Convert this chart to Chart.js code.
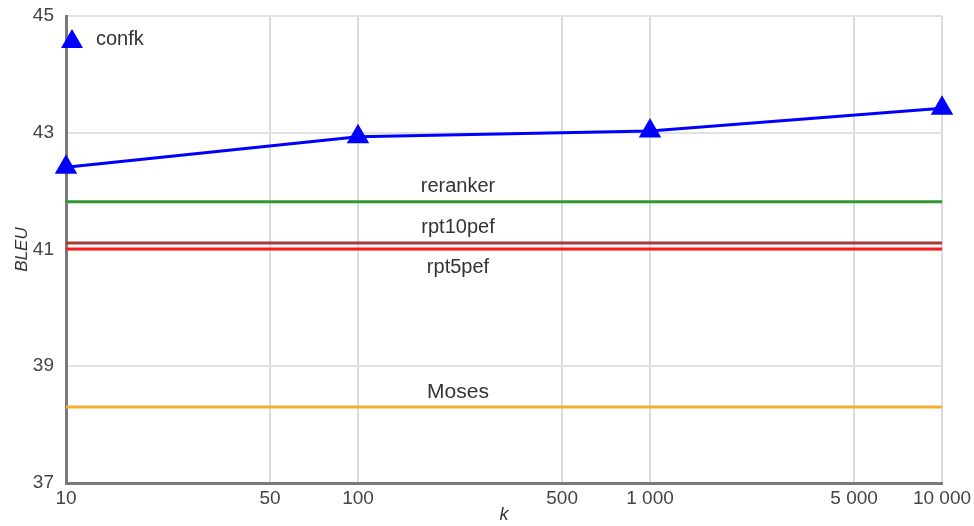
<!DOCTYPE html>
<html>
<head>
<meta charset="utf-8">
<script src="https://cdn.jsdelivr.net/npm/chart.js@4.4.1/dist/chart.umd.min.js"></script>
<style>
  html, body { margin: 0; padding: 0; background: #fff; }
  #wrap { width: 974px; height: 526px; position: relative; }
</style>
</head>
<body>
<div id="wrap"><canvas id="bleuChart"></canvas></div>
<script>
// Data
const kValues = [10, 100, 1000, 10000];
const confkBleu = [42.41, 42.93, 43.03, 43.42];
const baselineNames = ['reranker', 'rpt10pef', 'rpt5pef', 'Moses'];
const baselineBleu = [41.82, 41.11, 41.01, 38.30];
const baselineColors = ['#2e9a2e', '#a83a3a', '#ff1a1a', '#f8ac30'];
const xTicks = [10, 50, 100, 500, 1000, 5000, 10000];
const yMin = 37, yMax = 45, yStep = 2;

// label offset: negative = above the line, positive = below
const labelOffsets = [-15, -16, 19, -15];
const labelSizes = [20, 20, 20, 21];
const labelX = 220;
const fontFamily = '"Liberation Sans", Arial, sans-serif';

function fmtK(v) {
    return String(v).replace(/\B(?=(\d{3})+(?!\d))/g, ' ');
}

const datasets = [{
    label: 'confk',
    data: kValues.map((k, i) => ({ x: k, y: confkBleu[i] })),
    borderColor: '#0000ff',
    backgroundColor: '#0000ff',
    borderWidth: 3,
    pointStyle: 'triangle',
    pointRadius: 13,
    pointHoverRadius: 13,
    pointBorderWidth: 0,
    clip: false
}];
baselineNames.forEach((name, i) => {
    datasets.push({
        label: name,
        data: [{ x: xTicks[0], y: baselineBleu[i] }, { x: xTicks[xTicks.length - 1], y: baselineBleu[i] }],
        borderColor: baselineColors[i],
        borderWidth: 3,
        pointRadius: 0
    });
});

// draws the text labels over the baseline lines and the legend entry
const labelPlugin = {
    id: 'labelPlugin',
    afterDatasetsDraw(chart) {
        const { ctx, scales: { x, y }, chartArea } = chart;
        ctx.save();
        ctx.fillStyle = '#333';
        ctx.textAlign = 'center';
        ctx.textBaseline = 'middle';
        baselineNames.forEach((name, i) => {
            ctx.font = labelSizes[i] + 'px ' + fontFamily;
            ctx.fillText(name, x.getPixelForValue(labelX), y.getPixelForValue(baselineBleu[i]) + labelOffsets[i]);
        });
        // legend
        const lx = chartArea.left + 6, ly = chartArea.top + 23;
        ctx.fillStyle = '#0000ff';
        ctx.beginPath();
        ctx.moveTo(lx - 11, ly + 9);
        ctx.lineTo(lx, ly - 10);
        ctx.lineTo(lx + 11, ly + 9);
        ctx.closePath();
        ctx.fill();
        ctx.fillStyle = '#333';
        ctx.textAlign = 'left';
        ctx.font = '20px ' + fontFamily;
        ctx.fillText('confk', chartArea.left + 30, ly);
        ctx.restore();
    }
};

const bleuCtx = document.getElementById('bleuChart').getContext('2d');
new Chart(bleuCtx, {
    type: 'line',
    data: { datasets: datasets },
    options: {
        responsive: true,
        maintainAspectRatio: false,
        animation: false,
        layout: { padding: { top: 16, right: 32, left: 0, bottom: 0 } },
        plugins: {
            legend: { display: false },
            tooltip: { enabled: false }
        },
        scales: {
            x: {
                type: 'logarithmic',
                min: xTicks[0],
                max: xTicks[xTicks.length - 1],
                afterBuildTicks: scale => {
                    scale.ticks = xTicks.map(v => ({ value: v }));
                },
                afterFit: scale => {
                    scale.height = 43;
                    scale.paddingLeft = 0;
                    scale.paddingRight = 0;
                },
                ticks: {
                    color: '#444',
                    font: { size: 19, family: fontFamily },
                    padding: 4,
                    maxRotation: 0,
                    autoSkip: false,
                    callback: value => fmtK(value)
                },
                grid: { color: '#dcdcdc', lineWidth: 2, drawTicks: false },
                border: { color: '#7a7a7a', width: 3 },
                title: {
                    display: true,
                    text: 'k',
                    color: '#333',
                    font: { size: 18, style: 'italic', family: fontFamily },
                    padding: { top: 0, bottom: 0 }
                }
            },
            y: {
                min: yMin,
                max: yMax,
                afterFit: scale => {
                    scale.width = 66;
                    scale.paddingTop = 0;
                    scale.paddingBottom = 0;
                },
                ticks: {
                    stepSize: yStep,
                    color: '#444',
                    font: { size: 19, family: fontFamily },
                    padding: 12
                },
                grid: { color: '#e2e2e2', lineWidth: 2, drawTicks: false },
                border: { color: '#7a7a7a', width: 3 },
                title: {
                    display: true,
                    text: 'BLEU',
                    color: '#333',
                    font: { size: 17, style: 'italic', family: fontFamily },
                    padding: { top: 12, bottom: 0 }
                }
            }
        }
    },
    plugins: [labelPlugin]
});
</script>
</body>
</html>
